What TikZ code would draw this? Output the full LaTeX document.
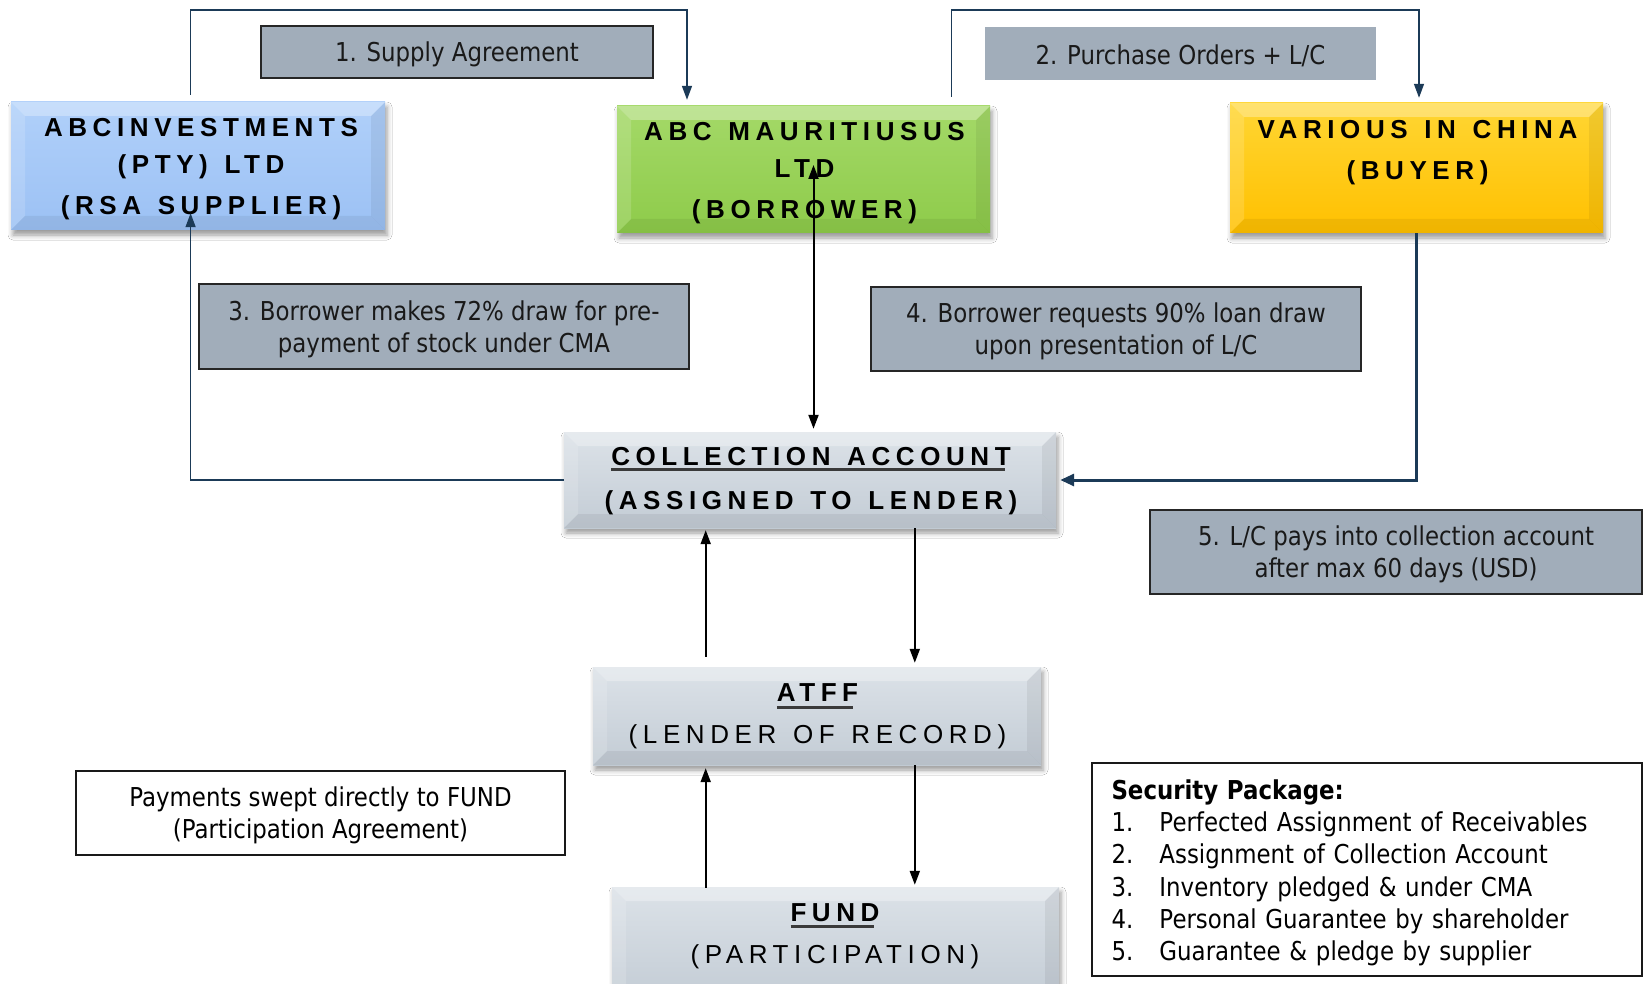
\documentclass[tikz,border=0pt]{standalone}
\usepackage{fontspec}
\setmainfont{DejaVu Sans}[FakeStretch=0.88]
\newfontfamily\ttlfont{Liberation Sans}[LetterSpace=21.5,WordSpace=1.3]
\usetikzlibrary{arrows.meta,shadows.blur}
\definecolor{navy}{HTML}{1B3A57}
\definecolor{lblgray}{HTML}{A1ADBA}
\definecolor{ulc}{HTML}{3A3A3A}
\definecolor{bluetop}{HTML}{B0D0FA}
\definecolor{bluebot}{HTML}{9CC1F4}
\definecolor{greentop}{HTML}{A4D968}
\definecolor{greenbot}{HTML}{8ECB4A}
\definecolor{yeltop}{HTML}{FFD633}
\definecolor{yelbot}{HTML}{FFC000}
\definecolor{graytop}{HTML}{DCE2E8}
\definecolor{graybot}{HTML}{C3CCD5}
\newcommand\ulbar[2][-5.5pt]{\setbox0\hbox{#2}\leavevmode\rlap{\textcolor{ulc}{\rule[#1]{\dimexpr\wd0-5.6pt\relax}{3pt}}}\box0}
\newcommand\tp[1][24.8pt]{\rule{0pt}{#1}}
\tikzset{
  bevel/.style={path picture={
    \fill[white,opacity=0.3] (path picture bounding box.north west) -- (path picture bounding box.north east) -- ([xshift=-14pt,yshift=-14pt]path picture bounding box.north east) -- ([xshift=14pt,yshift=-14pt]path picture bounding box.north west) -- cycle;
    \fill[white,opacity=0.15] (path picture bounding box.north west) -- ([xshift=14pt,yshift=-14pt]path picture bounding box.north west) -- ([xshift=14pt,yshift=14pt]path picture bounding box.south west) -- (path picture bounding box.south west) -- cycle;
    \fill[black,opacity=0.06] (path picture bounding box.north east) -- (path picture bounding box.south east) -- ([xshift=-14pt,yshift=14pt]path picture bounding box.south east) -- ([xshift=-14pt,yshift=-14pt]path picture bounding box.north east) -- cycle;
    \fill[black,opacity=0.06] (path picture bounding box.south west) -- (path picture bounding box.south east) -- ([xshift=-14pt,yshift=14pt]path picture bounding box.south east) -- ([xshift=14pt,yshift=14pt]path picture bounding box.south west) -- cycle;
  }},
  titlebox/.style={bevel, inner sep=0pt,
    blur shadow={shadow xshift=2pt, shadow yshift=-5pt, shadow blur radius=5pt, shadow opacity=40}},
  titletext/.style={align=center, inner sep=0pt, text=black,
    font=\ttlfont\bfseries\fontsize{26}{#1}\selectfont},
  titletext/.default=37,
  lblbox/.style={fill=lblgray, draw=black!85, line width=1.6pt, align=center, inner sep=0pt,
    text=black!90, font=\fontsize{26}{32}\selectfont},
  notebox/.style={fill=white, draw=black!90, line width=1.6pt, align=center, inner sep=0pt,
    text=black, font=\fontsize{26}{32}\selectfont},
  conn/.style={draw=navy, line width=1.5pt, -{Triangle[length=14pt,width=10pt]}, navy},
  connthick/.style={draw=navy, line width=3pt, -{Triangle[length=14pt,width=12pt]}, navy},
  blk/.style={draw=black, line width=2pt},
  >={Triangle[length=14pt,width=10pt]}
}
\begin{document}
\begin{tikzpicture}[x=1pt,y=-1pt]
\useasboundingbox (0,0) rectangle (1646,984);
\clip (0,0) rectangle (1646,984);
\fill[white] (0,0) rectangle (1646,984);

% label boxes
\node[lblbox, minimum width=392pt, minimum height=52pt] (l1) at (457,52) {\tp 1. Supply Agreement};
\node[lblbox, draw=none, minimum width=391pt, minimum height=53pt] (l2) at (1180.5,53.5) {\tp 2. Purchase Orders + L/C};
\node[lblbox, minimum width=490pt, minimum height=85pt] (l3) at (444,326.5) {\tp 3. Borrower makes 72\% draw for pre-\\payment of stock under CMA};
\node[lblbox, minimum width=490pt, minimum height=84pt] (l4) at (1116,329) {\tp 4. Borrower requests 90\% loan draw\\upon presentation of L/C};
\node[lblbox, minimum width=492pt, minimum height=84pt] (l5) at (1396,552) {\tp 5. L/C pays into collection account\\after max 60 days (USD)};
\node[notebox, minimum width=489pt, minimum height=84pt] (pay) at (320.5,813) {\tp Payments swept directly to FUND\\(Participation Agreement)};
\node[notebox, minimum width=550pt, minimum height=213pt, text width=511pt, align=left, inner xsep=19.5pt, font=\fontsize{26}{32.3}\selectfont] (sec) at (1367,869.5)
 {\tp[26.2pt]\textbf{Security Package:}\\
  \makebox[48pt][l]{1.}Perfected Assignment of Receivables\\
  \makebox[48pt][l]{2.}Assignment of Collection Account\\
  \makebox[48pt][l]{3.}Inventory pledged \& under CMA\\
  \makebox[48pt][l]{4.}Personal Guarantee by shareholder\\
  \makebox[48pt][l]{5.}Guarantee \& pledge by supplier};

% title boxes
\node[titlebox, top color=bluetop, bottom color=bluebot, minimum width=374pt, minimum height=128pt] (abc) at (198,166) {};
\node[titletext=36.5] (abc-t) at (201,169) {ABCINVESTMENTS\\(PTY) LTD\\[4.5pt](RSA SUPPLIER)};
\node[titlebox, top color=greentop, bottom color=greenbot, minimum width=373pt, minimum height=127pt] (green) at (803.5,169.5) {};
\node[titletext=37] (green-t) at (804.5,173) {ABC MAURITIUSUS\\LTD\\[3.5pt](BORROWER)};
\node[titlebox, top color=yeltop, bottom color=yelbot, minimum width=373pt, minimum height=130pt] (buyer) at (1416.5,168) {};
\node[titletext=41.5] (buyer-t) at (1417.5,152.5) {VARIOUS IN CHINA\\(BUYER)};
\node[titlebox, top color=graytop, bottom color=graybot, minimum width=492pt, minimum height=96pt] (coll) at (810,480) {};
\node[titletext=43.5] (coll-t) at (811,481) {\ulbar{COLLECTION ACCOUNT}\\(ASSIGNED TO LENDER)};
\node[titlebox, top color=graytop, bottom color=graybot, minimum width=448pt, minimum height=98pt] (atff) at (817,716) {};
\node[titletext=42, font=\ttlfont\mdseries\fontsize{26}{42}\selectfont] (atff-t) at (817.5,716.5) {\ulbar[-7pt]{\bfseries ATFF}\\(LENDER OF RECORD)};
\node[titlebox, top color=graytop, bottom color=graybot, minimum width=447pt, minimum height=113pt] (fund) at (835.5,943.5) {};
\node[titletext=42.5, font=\ttlfont\mdseries\fontsize{26}{42.5}\selectfont] (fund-t) at (835,936) {\ulbar[-6.5pt]{\bfseries FUND}\\(PARTICIPATION)};

% connectors
\draw[conn] ([xshift=-7.4pt,yshift=7pt]abc.north) -- ++(0,-85) -| ([xshift=-116.5pt,yshift=6pt]green.north);
\draw[conn] ([xshift=148pt,yshift=9pt]green.north) -- ++(0,-87) -| ([xshift=2.5pt,yshift=5pt]buyer.north);
\draw[conn] (coll.west) -| ([xshift=-7.4pt,yshift=17pt]abc.south);
\draw[blk,<->] ([xshift=10pt,yshift=4.5pt]green.center) -- ([xshift=3.5pt,yshift=3pt]coll.north);
\draw[connthick] (buyer.south) |- ([xshift=4pt]coll.east);
\draw[blk,->] ([xshift=-111.3pt,yshift=10pt]atff.north) -- ([xshift=-104.3pt,yshift=-2pt]coll.south);
\draw[blk,->] ([xshift=104.8pt]coll.south) -- ([xshift=97.8pt,yshift=4pt]atff.north);
\draw[blk,->] ([xshift=-129.8pt,yshift=-1pt]fund.north) -- ([xshift=-111.3pt,yshift=-3pt]atff.south);
\draw[blk,->] ([xshift=97.8pt]atff.south) -- ([xshift=79.3pt,yshift=2pt]fund.north);
\end{tikzpicture}
\end{document}
